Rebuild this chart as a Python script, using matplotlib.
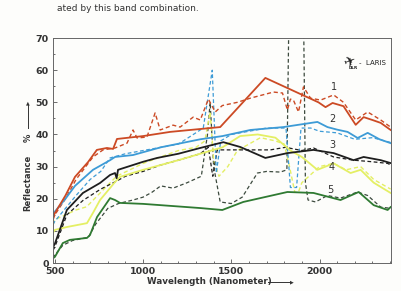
import matplotlib
matplotlib.use("Agg")
import matplotlib.pyplot as plt
from matplotlib.ticker import MultipleLocator

# curve 1 (red)
c1_solid_w = [490, 500, 560, 614, 688, 738, 795, 830, 852, 1000, 1153, 1324, 1437, 1693, 1994, 2034, 2074, 2136, 2205, 2250, 2300, 2347, 2403]
c1_solid_r = [14.5, 15.5, 21, 26.8, 31.4, 35.2, 35.8, 35.5, 38.6, 39.5, 40.8, 41.7, 42.3, 57.6, 50, 48.5, 49.8, 48.8, 43, 45.4, 44.5, 43.6, 41.4]
c1_dash_w = [490, 500, 560, 620, 716, 773, 841, 909, 943, 966, 1022, 1068, 1097, 1170, 1210, 1284, 1324, 1370, 1409, 1449, 1534, 1608, 1739, 1790, 1818, 1835, 1852, 1881, 1909, 1949, 2006, 2080, 2136, 2205, 2273, 2347, 2403]
c1_dash_r = [13.5, 15, 20, 26, 33, 35.2, 35.8, 37.3, 41.4, 38.9, 39.2, 46.7, 41.4, 42.9, 42.3, 45.4, 44.5, 51, 47, 49, 50, 51.3, 53.2, 52.9, 47.6, 51, 50.7, 47, 54.8, 51.3, 50.7, 52.3, 50, 44.5, 47, 44.5, 42.3]

# curve 2 (blue)
c2_solid_w = [490, 500, 560, 614, 716, 813, 841, 943, 1100, 1324, 1450, 1608, 1795, 1988, 2045, 2100, 2159, 2216, 2273, 2340, 2403]
c2_solid_r = [15, 16, 20, 24, 29, 32, 33, 33.6, 36, 38.5, 39.5, 41.4, 42.3, 43.9, 42.3, 41.5, 40.8, 38.9, 40.5, 38.5, 37.3]
c2_dash_w = [490, 500, 560, 620, 700, 760, 813, 900, 1000, 1200, 1341, 1392, 1415, 1440, 1500, 1600, 1700, 1810, 1835, 1870, 1895, 1950, 2000, 2100, 2200, 2300, 2403]
c2_dash_r = [12, 13, 17, 21, 26, 28.5, 32.7, 34, 35, 37, 42, 60, 28, 38, 40, 41, 42, 42, 23.5, 23.5, 42, 42, 41, 40.5, 38.5, 39, 37.5]

# curve 3 (black)
c3_solid_w = [490, 500, 568, 659, 756, 813, 841, 850, 858, 1000, 1080, 1200, 1324, 1455, 1551, 1693, 1818, 1966, 2080, 2193, 2250, 2347, 2403]
c3_solid_r = [5, 6, 16.5, 21.8, 24.9, 27.4, 28, 26.4, 29, 31.5, 32.7, 34, 35.8, 37.6, 36.1, 32.7, 34.2, 35.2, 34.2, 32, 33, 32, 31.1]
c3_dash_w = [490, 500, 568, 660, 760, 850, 900, 1000, 1100, 1200, 1324, 1370, 1395, 1420, 1500, 1608, 1721, 1807, 1900, 1966, 2080, 2193, 2300, 2386, 2403]
c3_dash_r = [4, 5, 15, 19.5, 23, 25.5, 27, 28.5, 30.5, 32, 34, 36, 27, 35.2, 35.2, 35.2, 35.2, 36, 35, 35.8, 33, 32, 31.5, 31, 30.5]

# curve 4 (yellow)
c4_solid_w = [490, 500, 568, 682, 716, 756, 841, 869, 1000, 1200, 1324, 1450, 1550, 1650, 1750, 1835, 1900, 1988, 2080, 2176, 2233, 2307, 2403]
c4_solid_r = [9.5, 10.3, 11.2, 12.4, 15.6, 19.6, 25.2, 26.8, 29, 32, 34, 36, 39.5, 40, 39, 35, 33, 29, 31, 28, 29, 25, 21.8]
c4_dash_w = [490, 500, 560, 620, 680, 760, 850, 1000, 1100, 1200, 1300, 1350, 1380, 1400, 1430, 1480, 1534, 1600, 1665, 1750, 1800, 1830, 1860, 1880, 1900, 1960, 2000, 2080, 2150, 2233, 2307, 2403]
c4_dash_r = [12, 13.5, 15, 16.5, 17.5, 22, 27, 31, 33, 35, 36, 38, 47, 32, 27, 30, 35, 37, 39, 38, 37, 30, 22, 22, 25, 28, 30, 31, 29, 30, 26, 23]

# curve 5 (green)
c5_solid_w = [490, 500, 545, 585, 682, 699, 739, 813, 841, 869, 1000, 1324, 1449, 1568, 1818, 1966, 2119, 2222, 2307, 2386, 2403]
c5_solid_r = [1.5, 1.9, 6.2, 7.2, 7.8, 8.7, 14.3, 20.2, 19.6, 18.7, 18.4, 17.1, 16.5, 19, 22.1, 21.8, 19.6, 22.1, 18, 16.5, 17.4]
c5_dash_w = [490, 500, 545, 600, 690, 730, 800, 860, 943, 1000, 1050, 1100, 1170, 1250, 1330, 1365, 1380, 1400, 1437, 1500, 1562, 1648, 1700, 1778, 1815, 1826, 1910, 1920, 1935, 1977, 2045, 2119, 2216, 2273, 2347, 2403]
c5_dash_r = [1.5, 2.5, 5.5, 7, 8, 12, 17, 18.5, 19.6, 20.5, 22, 24, 23.3, 25, 27, 40, 50, 30, 19, 18.5, 20.5, 28, 28.5, 28.3, 29, 75, 75, 25, 19.6, 19, 21, 20.2, 22.1, 21, 17.4, 17]

curve_labels = ["1", "2", "3", "4", "5"]
label_w = [2080, 2074, 2074, 2068, 2063]
label_r = [54.8, 44.8, 36.7, 29.9, 22.7]

red = "#cc4a24"
blue = "#3d9bd6"
black = "#1e1e1e"
yellow = "#e4ef64"
green = "#2f7a32"

fig = plt.figure(figsize=(4.01, 2.91), dpi=100)
fig.patch.set_facecolor("#fdfdfb")
ax = fig.add_axes([0.132, 0.0962, 0.843, 0.773])
ax.set_facecolor("#fdfdfb")

dash = (0, (3, 2))
ax.plot(c5_dash_w, c5_dash_r, color="#3c4a3e", lw=0.9, ls=dash)
ax.plot(c4_dash_w, c4_dash_r, color=yellow, lw=1.0, ls=dash)
ax.plot(c3_dash_w, c3_dash_r, color=black, lw=0.9, ls=dash)
ax.plot(c2_dash_w, c2_dash_r, color=blue, lw=0.9, ls=dash)
ax.plot(c1_dash_w, c1_dash_r, color=red, lw=1.0, ls=dash)
ax.plot(c5_solid_w, c5_solid_r, color=green, lw=1.3)
ax.plot(c4_solid_w, c4_solid_r, color=yellow, lw=1.3)
ax.plot(c3_solid_w, c3_solid_r, color=black, lw=1.3)
ax.plot(c2_solid_w, c2_solid_r, color=blue, lw=1.3)
ax.plot(c1_solid_w, c1_solid_r, color=red, lw=1.3)

for lab, w, r in zip(curve_labels, label_w, label_r):
    ax.text(w, r, lab, fontsize=7, color="#333333", ha="center", va="center")

ax.set_xlim(489, 2405)
ax.set_ylim(0, 70)
ax.xaxis.set_major_locator(MultipleLocator(500))
ax.xaxis.set_minor_locator(MultipleLocator(100))
ax.yaxis.set_major_locator(MultipleLocator(10))
ax.yaxis.set_minor_locator(MultipleLocator(5))
ax.tick_params(which="both", direction="in", color="#555555", width=0.6)
ax.tick_params(which="major", length=3, labelsize=6.8, pad=3)
ax.tick_params(which="minor", length=1.5)
for t in ax.get_xticklabels() + ax.get_yticklabels():
    t.set_fontweight("bold")
    t.set_color("#333333")
for s in ax.spines.values():
    s.set_color("#666666")
    s.set_linewidth(0.7)

# axis labels with arrows
fig.text(0.07, 0.371, "Reflectance", rotation=90, fontsize=6, fontweight="bold",
         color="#333333", ha="center", va="center")
fig.text(0.07, 0.526, "%", rotation=90, fontsize=6, fontweight="bold",
         color="#333333", ha="center", va="center")
fig.add_artist(plt.Line2D([0.07, 0.07], [0.56, 0.64], color="#333333", lw=0.7))
fig.text(0.07, 0.645, "\u25b2", fontsize=3.5, color="#333333", ha="center", va="center")

fig.text(0.523, 0.031, "Wavelength (Nanometer)", fontsize=6.3, fontweight="bold",
         color="#333333", ha="center", va="center")
fig.add_artist(plt.Line2D([0.668, 0.725], [0.031, 0.031], color="#333333", lw=0.7))
fig.text(0.728, 0.031, "\u25b6", fontsize=3.5, color="#333333", ha="center", va="center")

# logo
fig.text(0.872, 0.79, "\u2708", fontsize=10, color="#222222", ha="center", va="center", rotation=20)
fig.text(0.88, 0.768, "DLR", fontsize=3, fontweight="bold", color="#222222", ha="center", va="center")
fig.text(0.93, 0.785, "-  LARIS", fontsize=5, color="#222222", ha="center", va="center")

# caption fragment from the scanned page
fig.text(0.142, 0.972, "ated by this band combination.", fontsize=6.5, color="#333333",
         ha="left", va="center")

fig.savefig("out.png", dpi=100, facecolor=fig.get_facecolor())
